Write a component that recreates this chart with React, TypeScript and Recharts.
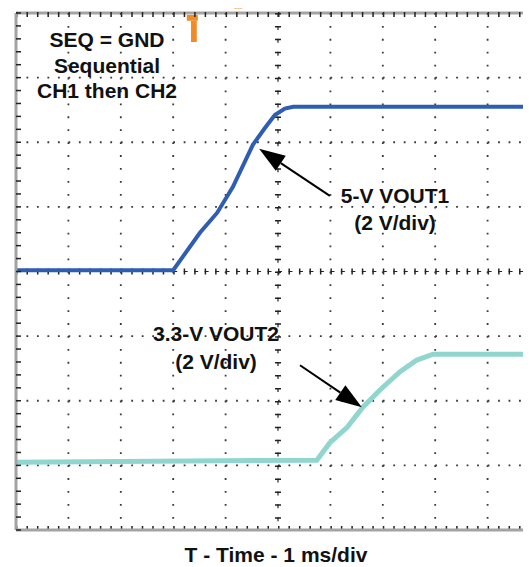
import React from "react";
import {
  Line,
  LineChart,
  ReferenceArea,
  ReferenceLine,
  XAxis,
  YAxis,
} from "recharts";

// time in divisions (1 ms/div), level in divisions (2 V/div), 0 = bottom of screen
const vout1Time = [0, 3.0, 3.51, 3.84, 4.14, 4.52, 4.75, 4.94, 5.13, 5.29, 10];
const vout1Level = [4.02, 4.02, 4.6, 4.91, 5.31, 5.96, 6.22, 6.42, 6.52, 6.55, 6.55];

const vout2Time = [0, 5.74, 5.99, 6.32, 6.62, 6.95, 7.33, 7.65, 7.96, 10];
const vout2Level = [1.05, 1.08, 1.35, 1.59, 1.9, 2.17, 2.45, 2.63, 2.72, 2.72];

const gridX = [1, 2, 3, 4, 6, 7, 8, 9];
const gridY = [1, 2, 3, 5, 6, 7];
const minorY = Array.from({ length: 41 }, (_, i) => i / 5);

const vout1 = vout1Time.map((t, i) => ({ t, v: vout1Level[i] }));
const vout2 = vout2Time.map((t, i) => ({ t, v: vout2Level[i] }));
// vertical graticule lines, top to bottom
const column = (t: number) => [
  { t, v: 8 },
  { t, v: 0 },
];

const BLUE = "#2f5db4";
const CYAN = "#90d6cf";
const ORANGE = "#f28a26";
const BORDER = "#a3a3a3";
const DOT = "#3a3a3a";

const Arrow = (props: any) => {
  const { x1, y1, x2, y2 } = props;
  const dx = x2 - x1;
  const dy = y2 - y1;
  const len = Math.sqrt(dx * dx + dy * dy);
  const ux = dx / len;
  const uy = dy / len;
  const head = 26;
  const half = 9;
  const bx = x2 - ux * head;
  const by = y2 - uy * head;
  return (
    <g>
      <line x1={x1} y1={y1} x2={bx} y2={by} stroke="#000" strokeWidth={2} />
      <polygon
        points={`${x2},${y2} ${bx - uy * half},${by + ux * half} ${bx + uy * half},${by - ux * half}`}
        fill="#000"
      />
    </g>
  );
};

const textStyle: React.CSSProperties = {
  position: "absolute",
  width: 240,
  textAlign: "center",
  fontWeight: "bold",
  fontSize: 21,
  color: "#111",
  whiteSpace: "nowrap",
};

const noTick = () => <g />;

export default function App() {
  return (
    <div
      style={{
        position: "relative",
        width: 531,
        height: 567,
        margin: "-8px 0 0 -8px",
        overflow: "hidden",
        background: "#fff",
        fontFamily: '"Liberation Sans", Arial, sans-serif',
      }}
    >
      <LineChart width={560} height={567} margin={{ top: 13, right: 20, bottom: 37, left: 16 }}>
        <XAxis
          type="number"
          dataKey="t"
          domain={[0, 10]}
          tick={false}
          tickLine={false}
          axisLine={{ stroke: BORDER, strokeWidth: 3 }}
          mirror
          height={1}
          allowDataOverflow
        />
        <YAxis
          type="number"
          domain={[0, 8]}
          ticks={minorY}
          interval={0}
          tick={noTick}
          tickSize={5}
          tickLine={{ stroke: "#222", strokeWidth: 1.5 }}
          axisLine={{ stroke: BORDER, strokeWidth: 3 }}
          mirror
          width={1}
          allowDataOverflow
        />
        {gridY.map((v) => (
          <ReferenceLine key={`gy${v}`} y={v} stroke={DOT} strokeWidth={1.8} strokeDasharray="1.8 8.68" />
        ))}
        <ReferenceLine y={8} stroke={BORDER} strokeWidth={3} ifOverflow="visible" />
        <ReferenceLine y={7.975} stroke="#222" strokeWidth={5} strokeDasharray="1.5 8.98" />
        <ReferenceLine y={0.025} stroke="#222" strokeWidth={5} strokeDasharray="1.5 8.98" />
        <ReferenceLine y={4} stroke="#222" strokeWidth={1.2} strokeDasharray="4 6.48" />
        <ReferenceLine y={4} stroke="#222" strokeWidth={6} strokeDasharray="1.5 8.98" />
        {gridX.map((v) => (
          <Line
            key={`gx${v}`}
            data={column(v)}
            type="linear"
            dataKey="v"
            stroke={DOT}
            strokeWidth={1.8}
            strokeDasharray="1.8 11.12"
            dot={false}
            activeDot={false}
            isAnimationActive={false}
          />
        ))}
        <Line
          data={column(5)}
          type="linear"
          dataKey="v"
          stroke="#222"
          strokeWidth={1.2}
          strokeDasharray="4 8.93"
          dot={false}
          activeDot={false}
          isAnimationActive={false}
        />
        <Line
          data={column(5)}
          type="linear"
          dataKey="v"
          stroke="#222"
          strokeWidth={6}
          strokeDasharray="1.5 11.43"
          dot={false}
          activeDot={false}
          isAnimationActive={false}
        />
        <ReferenceArea x1={3.26} x2={3.47} y1={7.88} y2={7.97} fill={ORANGE} fillOpacity={1} stroke="none" />
        <ReferenceArea x1={3.34} x2={3.45} y1={7.55} y2={7.88} fill={ORANGE} fillOpacity={1} stroke="none" />
        <ReferenceArea
          x1={4.16}
          x2={4.32}
          y1={8.07}
          y2={8.2}
          ifOverflow="visible"
          fill={ORANGE}
          fillOpacity={1}
          stroke="none"
        />
        <ReferenceArea
          x1={9.71}
          x2={9.84}
          y1={4.3}
          y2={4.49}
          ifOverflow="visible"
          fill={BLUE}
          fillOpacity={1}
          stroke="none"
        />
        <Line
          data={vout1}
          type="linear"
          dataKey="v"
          stroke={BLUE}
          strokeWidth={4}
          dot={false}
          activeDot={false}
          isAnimationActive={false}
        />
        <Line
          data={vout2}
          type="linear"
          dataKey="v"
          stroke={CYAN}
          strokeWidth={5}
          dot={false}
          activeDot={false}
          isAnimationActive={false}
        />
        <ReferenceLine
          segment={[
            { x: 5.99, y: 5.17 },
            { x: 4.64, y: 5.9 },
          ]}
          ifOverflow="visible"
          shape={Arrow}
        />
        <ReferenceLine
          segment={[
            { x: 5.42, y: 2.55 },
            { x: 6.6, y: 1.9 },
          ]}
          ifOverflow="visible"
          shape={Arrow}
        />
      </LineChart>
      <div style={{ ...textStyle, left: 107 - 120, top: 27, lineHeight: "25.5px" }}>
        SEQ = GND
        <br />
        Sequential
        <br />
        CH1 then CH2
      </div>
      <div style={{ ...textStyle, left: 395 - 120, top: 182, lineHeight: "27px" }}>
        5-V VOUT1
        <br />
        (2 V/div)
      </div>
      <div style={{ ...textStyle, left: 216 - 120, top: 320, lineHeight: "28px" }}>
        3.3-V VOUT2
        <br />
        (2 V/div)
      </div>
      <div style={{ ...textStyle, left: 276 - 120, top: 541, lineHeight: "28px" }}>
        T - Time - 1 ms/div
      </div>
    </div>
  );
}
